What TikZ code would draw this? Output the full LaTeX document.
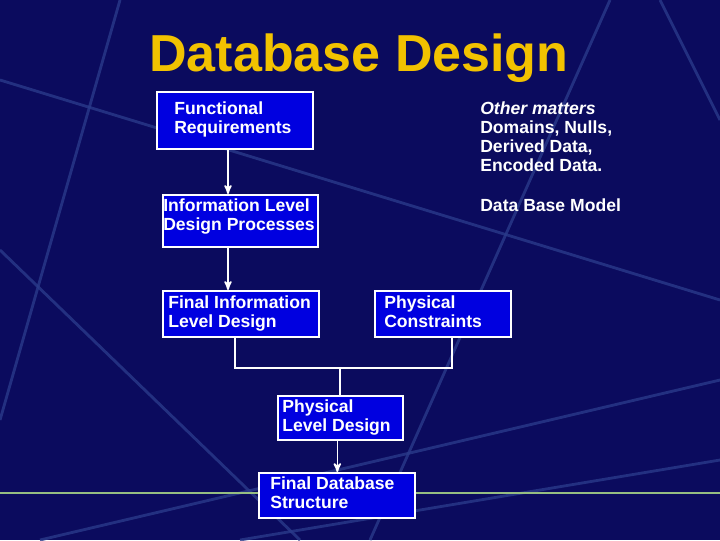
\documentclass[tikz,border=0pt]{standalone}
\usepackage{fontspec}
\setmainfont{Liberation Sans}
\usetikzlibrary{arrows,calc}
\definecolor{slidebg}{HTML}{0B0B5E}
\definecolor{boxblue}{HTML}{0000E0}
\definecolor{streak}{HTML}{2A3A8A}
\definecolor{titlegold}{HTML}{F2C200}
\tikzset{
  stage/.style={draw=white,line width=1.2pt,fill=boxblue,text=white,font=\bfseries\fontsize{12.5}{13.6}\selectfont,
    align=left,inner sep=0pt,anchor=north west},
  plain/.style={text=white,font=\bfseries\fontsize{12.5}{13.6}\selectfont,align=left,inner sep=0pt,anchor=north west},
  link/.style={draw=white,line width=1.2pt}
}
\begin{document}
\begin{tikzpicture}[x=0.025cm,y=-0.025cm,>=stealth']
  \fill[slidebg] (0,0) rectangle (720,540);
  \useasboundingbox (0,0) rectangle (720,540);
  % background streaks
  \begin{scope}[streak,line width=2pt,opacity=0.8]
    \draw (0,80) -- (720,300);
    \draw (120,0) -- (0,420);
    \draw (610,0) -- (370,540);
    \draw (40,540) -- (720,380);
    \draw (660,0) -- (720,120);
    \draw (240,540) -- (720,460);
    \draw (0,250) -- (300,540);
  \end{scope}
  \draw[color={rgb,255:red,150;green,190;blue,130},line width=2pt] (0,493) -- (720,493);
  % title
  \node[text=titlegold,font=\bfseries\fontsize{37}{40}\selectfont] (title) at (359,58) {Database Design};
  % boxes
  \node[stage,minimum width=156*0.025cm,minimum height=57*0.025cm] (req) at (156,91) {};
  \node[plain] at (174,101) {Functional\\Requirements};
  \node[stage,minimum width=155*0.025cm,minimum height=52*0.025cm] (ild) at (162,194) {};
  \node[plain] at (163,198) {Information Level\\Design Processes};
  \node[stage,minimum width=156*0.025cm,minimum height=46*0.025cm] (fil) at (162,290) {};
  \node[plain] at (168,295) {Final Information\\Level Design};
  \node[stage,minimum width=136*0.025cm,minimum height=46*0.025cm] (pc) at (374,290) {};
  \node[plain] at (384,295) {Physical\\Constraints};
  \node[stage,minimum width=125*0.025cm,minimum height=44*0.025cm] (pld) at (277,395) {};
  \node[plain] at (282,399) {Physical\\Level Design};
  \node[stage,minimum width=156*0.025cm,minimum height=45*0.025cm] (fds) at (258,472) {};
  \node[plain] at (270,476) {Final Database\\Structure};
  % side notes
  \node[plain] (other) at (480,101) {\itshape Other matters\\Domains, Nulls,\\Derived Data,\\Encoded Data.};
  \node[plain] (dbm) at (480,198) {Data Base Model};
  % connectors
  \coordinate (spine) at (228,0);
  \draw[link,->] (spine |- req.south) -- (spine |- ild.north);
  \draw[link,->] (spine |- ild.south) -- (spine |- fil.north);
  \coordinate (join) at (340,368);
  \draw[link] ($(fil.south)+(-6,0)$) |- (join) -| ($(pc.south)+(9,0)$);
  \draw[link] (join) -- (join |- pld.north);
  \draw[link,->] ($(pld.south)+(-3,0)$) -- ($(pld.south |- fds.north)+(-3,0)$);
\end{tikzpicture}
\end{document}
